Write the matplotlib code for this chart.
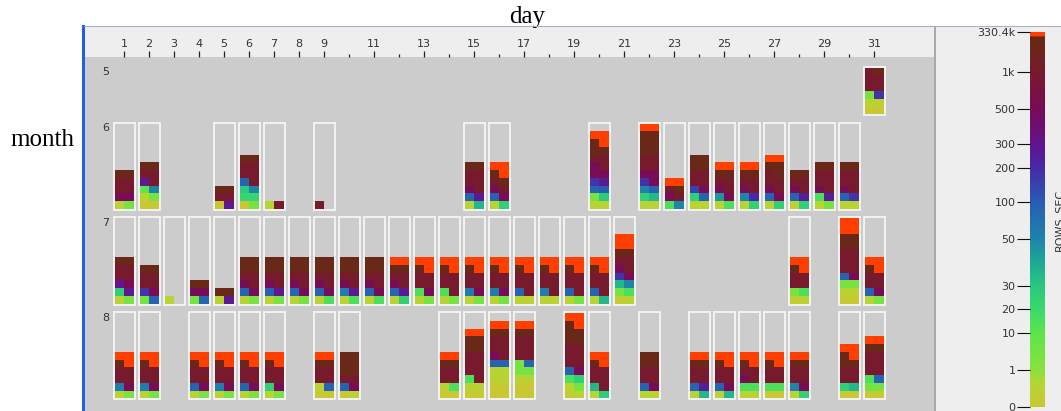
import numpy as np
import matplotlib
matplotlib.use("Agg")
import matplotlib.pyplot as plt
from matplotlib.colors import LinearSegmentedColormap
from matplotlib.patches import Rectangle

# ---------------- data: ROWS_SEC samples per (month, day) ----------------
months = [5, 6, 7, 8]

may_values = {
    31: [0, 0, 0.5, 0.5, 5, 180, 1000, 1000, 1000, 1000, 1000, 2e5],
}

june_values = {
    1: [0.5, 5, 500, 500, 1000, 1000, 1000, 1000, 2e5, 2e5],
    2: [0, 0, 0.5, 5, 10, 50, 280, 1000, 1000, 1000, 2e5, 2e5],
    5: [0, 280, 1000, 1000, 2e5, 2e5],
    6: [0, 5, 22, 22, 28, 50, 90, 1000, 1000, 1000, 1000, 1000, 2e5, 2e5],
    7: [0.5, 1000],
    9: [1000],
    15: [0.5, 35, 90, 280, 500, 1000, 1000, 1000, 1000, 1000, 2e5, 2e5],
    16: [0.5, 25, 90, 500, 500, 1000, 1000, 2e5, 2e5, 3.3e5, 3.3e5, 3.3e5],
    20: [0.5, 0.5, 5, 28, 90, 100, 180, 280, 500, 500, 500, 1000, 1000, 1000,
         2e5, 2e5, 2e5, 3.3e5, 3.3e5, 3.3e5],
    22: [0.5, 0.5, 25, 35, 50, 90, 180, 500, 500, 500, 1000, 1000, 1000, 1000,
         2e5, 2e5, 2e5, 2e5, 2e5, 2e5, 3.3e5, 3.3e5],
    23: [15, 50, 500, 1000, 1000, 2e5, 3.3e5, 3.3e5],
    24: [0.5, 0.5, 25, 90, 150, 500, 1000, 1000, 1000, 1000, 2e5, 2e5, 2e5, 2e5],
    25: [0.5, 15, 45, 500, 500, 1000, 1000, 1000, 2e5, 2e5, 3.3e5, 3.3e5],
    26: [0.5, 25, 50, 200, 500, 1000, 1000, 1000, 2e5, 2e5, 3.3e5, 3.3e5],
    27: [0.5, 25, 90, 500, 500, 1000, 1000, 1000, 1000, 2e5, 2e5, 2e5, 3.3e5, 3.3e5],
    28: [0.5, 25, 90, 250, 500, 1000, 1000, 1000, 2e5, 2e5],
    29: [0.5, 5, 15, 250, 500, 1000, 1000, 1000, 1000, 1000, 2e5, 2e5],
    30: [0.5, 0.5, 90, 180, 500, 1000, 1000, 1000, 1000, 1000, 2e5, 2e5],
}

july_values = {
    1: [0.5, 5, 25, 280, 300, 500, 1000, 1000, 1000, 1000, 2e5, 2e5],
    2: [5, 90, 180, 500, 1000, 1000, 1000, 1000, 2e5, 2e5],
    3: [0.5],
    4: [5, 90, 500, 500, 2e5, 2e5],
    5: [0.5, 280, 2e5, 2e5],
    6: [0.5, 5, 90, 500, 500, 1000, 1000, 1000, 2e5, 2e5, 2e5, 2e5],
    7: [0.5, 5, 90, 280, 500, 1000, 1000, 1000, 2e5, 2e5, 2e5, 2e5],
    8: [0.5, 5, 90, 500, 500, 1000, 1000, 1000, 2e5, 2e5, 2e5, 2e5],
    9: [0.5, 15, 90, 500, 500, 1000, 1000, 1000, 2e5, 2e5, 2e5, 2e5],
    10: [0.5, 15, 60, 280, 500, 1000, 1000, 1000, 2e5, 2e5, 2e5, 2e5],
    11: [0.5, 15, 90, 500, 500, 1000, 1000, 1000, 2e5, 2e5, 2e5, 2e5],
    12: [0.5, 25, 90, 280, 500, 1000, 1000, 1000, 2e5, 2e5, 3.3e5, 3.3e5],
    13: [0.5, 5, 15, 500, 1000, 1000, 1000, 1000, 2e5, 3.3e5, 3.3e5, 3.3e5],
    14: [0.5, 5, 15, 1000, 1000, 1000, 1000, 1000, 2e5, 3.3e5, 3.3e5, 3.3e5],
    15: [0.5, 5, 60, 500, 1000, 1000, 1000, 1000, 2e5, 3.3e5, 3.3e5, 3.3e5],
    16: [0.5, 5, 60, 500, 1000, 1000, 1000, 1000, 2e5, 3.3e5, 3.3e5, 3.3e5],
    17: [0.5, 0.5, 90, 1000, 1000, 1000, 1000, 1000, 2e5, 3.3e5, 3.3e5, 3.3e5],
    18: [0.5, 0.5, 60, 1000, 1000, 1000, 1000, 1000, 2e5, 3.3e5, 3.3e5, 3.3e5],
    19: [0.5, 5, 90, 1000, 1000, 1000, 1000, 1000, 2e5, 3.3e5, 3.3e5, 3.3e5],
    20: [0.5, 35, 90, 1000, 1000, 1000, 1000, 1000, 2e5, 3.3e5, 3.3e5, 3.3e5],
    21: [0.2, 0.5, 5, 15, 35, 50, 180, 500, 500, 1000, 1000, 1000, 2e5, 2e5,
         3.3e5, 3.3e5, 3.3e5, 3.3e5],
    28: [0.2, 0.5, 5, 15, 1000, 1000, 1000, 1000, 2e5, 3.3e5, 3.3e5, 3.3e5],
    30: [0, 0, 0.5, 0.5, 5, 5, 90, 500, 1000, 1000, 1000, 1000, 1000, 1000,
         2e5, 2e5, 2e5, 2e5, 3.3e5, 3.3e5, 3.3e5, 3.3e5],
    31: [0.5, 5, 90, 500, 1000, 1000, 1000, 1000, 2e5, 3.3e5, 3.3e5, 3.3e5],
}

aug_values = {
    1: [0.5, 5, 60, 500, 1000, 1000, 1000, 1000, 2e5, 3.3e5, 3.3e5, 3.3e5],
    2: [0.5, 5, 60, 500, 1000, 1000, 1000, 1000, 2e5, 3.3e5, 3.3e5, 3.3e5],
    4: [0.5, 5, 90, 500, 1000, 1000, 1000, 1000, 2e5, 3.3e5, 3.3e5, 3.3e5],
    5: [0.5, 5, 60, 500, 1000, 1000, 1000, 1000, 2e5, 3.3e5, 3.3e5, 3.3e5],
    6: [0.5, 5, 90, 500, 1000, 1000, 1000, 1000, 2e5, 3.3e5, 3.3e5, 3.3e5],
    7: [0.5, 5, 25, 500, 1000, 1000, 1000, 1000, 2e5, 3.3e5, 3.3e5, 3.3e5],
    9: [0, 0, 0.5, 90, 1000, 1000, 1000, 1000, 2e5, 2e5, 3.3e5, 3.3e5],
    10: [0, 0.5, 90, 500, 1000, 1000, 2e5, 2e5, 2e5, 2e5, 2e5, 2e5],
    14: [0, 0, 0.5, 15, 1000, 1000, 1000, 1000, 2e5, 2e5, 3.3e5, 3.3e5],
    15: [0, 0, 0.5, 0.5, 15, 1000, 1000, 1000, 1000, 1000, 1000, 1000,
         2e5, 2e5, 2e5, 2e5, 3.3e5, 3.3e5],
    16: [0, 0, 0, 0, 0.5, 0.5, 0.5, 0.5, 90, 90, 500, 1000, 1000, 1000, 1000, 1000,
         2e5, 2e5, 3.3e5, 3.3e5],
    17: [0, 0, 0, 0, 0.5, 0.5, 5, 5, 5, 90, 1000, 1000, 1000, 1000, 1000, 1000,
         2e5, 2e5, 3.3e5, 3.3e5],
    19: [0.2, 0.5, 0.5, 5, 15, 25, 90, 500, 1000, 1000, 1000, 1000, 1000, 1000,
         2e5, 2e5, 2e5, 2e5, 2e5, 3.3e5, 3.3e5, 3.3e5],
    20: [0.5, 28, 35, 1000, 1000, 1000, 1000, 1000, 2e5, 3.3e5, 3.3e5, 3.3e5],
    22: [0.5, 0.5, 90, 500, 1000, 1000, 1000, 1000, 2e5, 2e5, 2e5, 2e5],
    24: [0.5, 35, 90, 250, 1000, 1000, 1000, 1000, 2e5, 2e5, 3.3e5, 3.3e5],
    25: [0.5, 35, 90, 500, 1000, 1000, 1000, 1000, 2e5, 3.3e5, 3.3e5, 3.3e5],
    26: [0.5, 0.5, 15, 15, 500, 1000, 1000, 1000, 2e5, 3.3e5, 3.3e5, 3.3e5],
    27: [0, 0, 15, 15, 1000, 1000, 1000, 1000, 2e5, 3.3e5, 3.3e5, 3.3e5],
    28: [0.5, 25, 50, 500, 1000, 1000, 1000, 1000, 2e5, 2e5, 3.3e5, 3.3e5],
    30: [0, 0, 25, 35, 1000, 1000, 1000, 1000, 2e5, 2e5, 2e5, 3.3e5, 3.3e5, 3.3e5],
    31: [0, 0, 5, 5, 15, 90, 1000, 1000, 1000, 1000, 1000, 1000, 2e5, 2e5,
         3.3e5, 3.3e5],
}

month_values = [may_values, june_values, july_values, aug_values]

day_major = [1, 2, 3, 4, 5, 6, 7, 8, 9, 11, 13, 15, 17, 19, 21, 23, 25, 27, 29, 31]
day_minor = [10, 12, 14, 16, 18, 20, 22, 24, 26, 28, 30]

scale_values = [0, 1, 10, 20, 30, 50, 100, 200, 300, 500, 1000, 330400]
scale_labels = ["0", "1", "10", "20", "30", "50", "100", "200", "300", "500", "1k", "330.4k"]

# ---------------- layout ----------------
W, H = 1061, 411
fig = plt.figure(figsize=(W / 100, H / 100), dpi=100)
fig.patch.set_facecolor("white")

# colorbar tick positions (pixel rows of the colour legend)
scale_px = np.array([407, 370, 333, 309, 286, 239, 202, 168, 144, 109, 72, 32], float)
scale_pos = (407 - scale_px) / 375.0

stops = [
    (0.000, (200, 200, 50)), (0.060, (182, 214, 50)), (0.098, (140, 225, 60)),
    (0.197, (92, 230, 76)), (0.261, (58, 216, 108)), (0.322, (40, 200, 130)),
    (0.390, (30, 166, 150)), (0.447, (30, 132, 170)), (0.548, (40, 92, 180)),
    (0.641, (72, 40, 166)), (0.702, (100, 20, 140)), (0.795, (120, 12, 86)),
    (0.891, (120, 26, 46)), (0.960, (106, 40, 24)), (0.985, (100, 40, 20)),
    (0.988, (255, 62, 0)), (1.000, (255, 62, 0)),
]
cmap = LinearSegmentedColormap.from_list(
    "rows", [(p, tuple(c / 255 for c in col)) for p, col in stops], N=1024)


def norm(v):
    return float(np.interp(v, scale_values, scale_pos))


def day_at(px):
    return 1 + (px - 124) / 25.0


X0, X1 = day_at(85), day_at(934)

# background pieces (behind all axes)
fig.add_artist(Rectangle((936 / W, 0), (W - 936) / W, (H - 27) / H, zorder=-5,
                         transform=fig.transFigure, facecolor="#eeeeee", edgecolor="none"))
fig.add_artist(Rectangle((934 / W, 0), 2 / W, (H - 27) / H, zorder=-5,
                         transform=fig.transFigure, facecolor="#a9a9a9", edgecolor="none"))

# main panel
ax = fig.add_axes([85 / W, 0, (934 - 85) / W, (H - 57) / H])
ax.set_xlim(X0, X1)
ax.set_ylim(H, 57)
ax.set_facecolor("#cccccc")
ax.set_xticks([])
ax.set_yticks([])
for s in ax.spines.values():
    s.set_visible(False)

CELL_H = 7.75
HALF = 0.38
box_top = 66.5
GAP = 7.5
for m, vals in zip(months, month_values):
    nrows = max(int(np.ceil(len(v) / 2)) for v in vals.values())
    box_h = nrows * CELL_H + 2
    ax.text(day_at(106), box_top + 5.5, str(m), ha="center", va="center",
            fontsize=8, color="#333333")
    cell_bottom = box_top + 1 + nrows * CELL_H
    for d, v in vals.items():
        for i, val in enumerate(sorted(v)):
            r, c = divmod(i, 2)
            ax.add_patch(Rectangle((d - HALF + c * HALF, cell_bottom - (r + 1) * CELL_H),
                                   HALF, CELL_H, facecolor=cmap(norm(val)),
                                   edgecolor="none", lw=0, antialiased=False))
        ax.add_patch(Rectangle((d - 0.42, box_top), 0.84, box_h, fill=False,
                               edgecolor="#f6f6f6", lw=1.3))
    box_top += box_h + GAP

# header with day ticks
hax = fig.add_axes([85 / W, (H - 57) / H, (934 - 85) / W, 30 / H])
hax.set_xlim(X0, X1)
hax.set_ylim(0, 1)
hax.set_facecolor("#eeeeee")
hax.set_yticks([])
for s in hax.spines.values():
    s.set_visible(False)
hax.set_xticks(day_major)
hax.set_xticklabels([str(d) for d in day_major])
hax.set_xticks(day_minor, minor=True)
hax.tick_params(axis="x", which="major", direction="in", length=4.4, width=0.9,
                color="#222222", labelsize=8, labelcolor="#333333", pad=-13)
hax.tick_params(axis="x", which="minor", direction="in", length=2.2, width=0.9,
                color="#222222")

# borders
fig.add_artist(Rectangle((82 / W, 0), 2.5 / W, (H - 25.5) / H, transform=fig.transFigure,
                         facecolor="#1f5fe0", edgecolor="none", zorder=5))
fig.add_artist(Rectangle((84 / W, (H - 27) / H), (W - 84) / W, 1.2 / H, zorder=5,
                         transform=fig.transFigure, facecolor="#9fb0c8", edgecolor="none"))

# colour legend
cax = fig.add_axes([1030 / W, (H - 407) / H, 15 / W, 375 / H])
grad = np.linspace(0, 1, 1024).reshape(-1, 1)
cax.imshow(grad, aspect="auto", cmap=cmap, origin="lower", extent=[0, 1, 0, 1],
           interpolation="nearest")
cax.set_xticks([])
cax.set_yticks(scale_pos)
cax.set_yticklabels(scale_labels)
cax.tick_params(axis="y", direction="out", length=9.4, width=0.8, labelsize=8,
                pad=1, labelcolor="#333333", color="#111111")
for s in cax.spines.values():
    s.set_visible(False)

fig.text(1059 / W, 1 - 220 / H, "ROWS_SEC", rotation=90, ha="center", va="center",
         fontsize=8, color="#333333")

# axis titles
fig.text(527 / W, 1 - 23 / H, "day", family="Liberation Serif", fontsize=18,
         ha="center", va="baseline", color="black")
fig.text(42 / W, 1 - 140 / H, "month", family="Liberation Serif", fontsize=18,
         ha="center", va="center", color="black")

fig.savefig("out.png", dpi=100)
